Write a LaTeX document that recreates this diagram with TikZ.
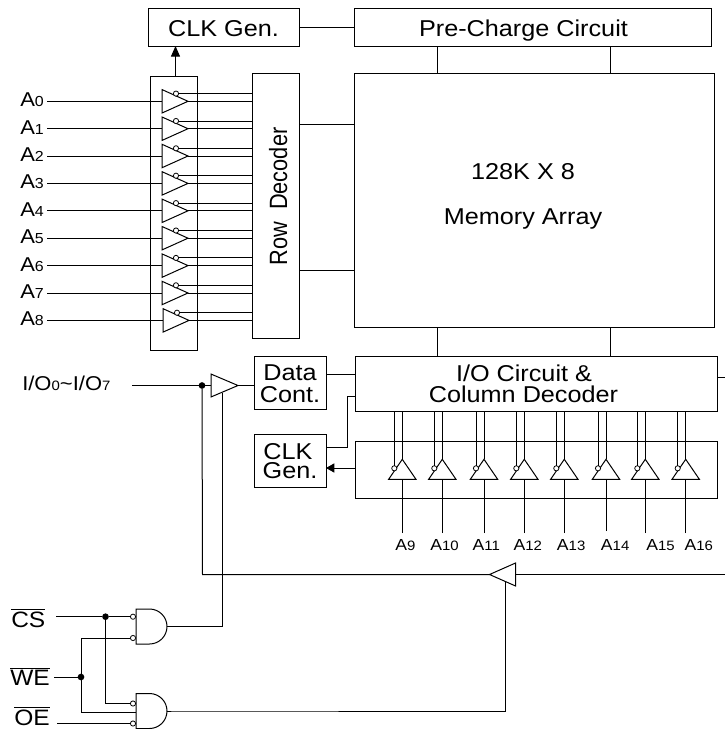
\documentclass[tikz,border=0pt]{standalone}
\usepackage{fontspec}
\setmainfont[FakeStretch=1.1]{Liberation Sans}
\newfontfamily\rotfont[FakeStretch=.87]{Liberation Sans}
\usetikzlibrary{shapes.geometric,arrows.meta}
\newcommand{\fbig}{\fontsize{17.2}{20}\selectfont}
\newcommand{\fa}{\fontsize{15}{18}\selectfont}
\newcommand{\fsub}{\fontsize{10.9}{13}\selectfont}
\newcommand{\fcol}{\fontsize{12}{14}\selectfont}
\newcommand{\fcolsub}{\fontsize{10.2}{12}\selectfont}
\newcommand{\fbar}{\fontsize{16.7}{20}\selectfont}
\newcommand{\Asub}[1]{{\fa A\fsub #1}}
\newcommand{\Acol}[1]{{\fcol A\fcolsub #1}}
\newcommand{\ovl}[1]{$\overline{\hbox{\fbar #1}}$}
\tikzset{
  wire/.style={line width=.75pt,black},
  box/.style={draw,line width=.75pt,inner sep=0pt,outer sep=0pt,rectangle},
  txt/.style={anchor=base,inner sep=0pt,font=\fbig},
  lab/.style={anchor=base west,inner sep=0pt},
  buf/.style={draw,line width=.75pt,fill=white,isosceles triangle,isosceles triangle stretches,inner sep=0pt,outer sep=0pt,anchor=apex,shape border rotate=#1},
  bub/.style={draw,line width=.6pt,fill=white,circle,inner sep=0pt,outer sep=0pt,minimum size=3.9pt},
  jdot/.style={fill=black,circle,inner sep=0pt,outer sep=0pt,minimum size=5pt},
  gatearea/.style={inner sep=0pt,outer sep=0pt,rectangle,minimum width=23.25pt,minimum height=26.25pt},
  tiptop/.style={-{Triangle[length=8pt,width=6.8pt]}},
  tiplow/.style={-{Triangle[length=6.2pt,width=6.8pt]}}
}
\newcommand{\bx}[5]{\node[box,minimum width={(#4-#2)*.75pt},minimum height={(#5-#3)*.75pt}] (#1) at ({(#2+#4)/2},{(#3+#5)/2}) {};}
\begin{document}
\begin{tikzpicture}[x=.75pt,y=-.75pt]
\useasboundingbox[fill=white] (0,0) rectangle (725,729);
% blocks
\bx{clktop}{148}{8}{299}{46}
\bx{pre}{354.5}{8}{711}{46}
\bx{mem}{354.5}{73}{714.5}{327.5}
\bx{row}{252}{73}{299}{338}
\bx{abuf}{150}{76}{197}{350}
\bx{data}{254.5}{356.5}{326}{409}
\bx{clklow}{254.5}{434.5}{326}{487}
\bx{io}{355}{356}{717.5}{411}
\bx{cbuf}{355}{441.5}{717.5}{498}
% block text
\node[txt] (tclk) at (223.5,36) {CLK Gen.};
\node[txt] (tpre) at (523.5,36) {Pre-Charge Circuit};
\node[txt] (tmem1) at (523,179) {128K X 8};
\node[txt] (tmem2) at (523,224) {Memory Array};
\node[anchor=base,inner sep=0pt,rotate=90] (trow) at (287,196.5) {\rotfont\fontsize{18.75}{20}\selectfont Row\ \ Decoder};
\node[txt] (tdata1) at (290,380) {Data};
\node[txt] (tdata2) at (290,402.7) {Cont.};
\node[txt] (tclk1) at (288,459) {CLK};
\node[txt] (tclk2) at (290,478) {Gen.};
\node[txt] (tio1) at (524,381.7) {I/O Circuit \&};
\node[txt] (tio2) at (523.5,402.7) {Column Decoder};
% top connections
\draw[wire] (clktop.east) -- (clktop.east -| pre.west);
\coordinate (clkin) at (175.5,76);
\draw[wire,tiptop] (abuf.north -| clkin) -- (clktop.south -| clkin);
\foreach \px in {437.7,610}{
  \coordinate (pc) at (\px,60);
  \draw[wire] (pc |- pre.south) -- (pc |- mem.north);
  \draw[wire] (pc |- mem.south) -- (pc |- io.north);
}
\coordinate (rm1) at (299,124);
\coordinate (rm2) at (299,270);
\draw[wire] (rm1) -- (rm1 -| mem.west);
\draw[wire] (rm2) -- (rm2 -| mem.west);
% row address buffers
\foreach \i/\yy/\dx in {0/101.3/0,1/128.7/0,2/156/0,3/183.4/0,4/210.8/0,5/238.2/0,6/265.6/0,7/293/0,8/320.4/1}{
  \node[lab] (la\i) at (20,\yy+5.5) {\Asub{\i}};
  \node[buf=0,minimum height=19.5pt,minimum width=17.6pt] (t\i) at (188+\dx,\yy) {};
  \node[bub] (b\i) at (176+\dx,\yy-7.7) {};
  \coordinate (s\i) at (47,\yy);
  \draw[wire] (s\i) -- (t\i.lower side);
  \draw[wire] (t\i.apex) -- (t\i.apex -| row.west);
  \draw[wire] (b\i.east) -- (b\i.east -| row.west);
}
% data path
\node[lab,font=\fa] (lio) at (22,390.7) {I/O{\fcolsub 0}\raisebox{0pt}{\char`~}I/O{\fcolsub 7}};
\coordinate (iostart) at (132,385.5);
\node[buf=0,minimum height=20.25pt,minimum width=17.2pt] (din) at (238,385.5) {};
\node[jdot] (jio) at (202,385.5) {};
\draw[wire] (iostart) -- (jio) -- (din.lower side);
\draw[wire] (din.apex) -- (din.apex -| data.west);
\coordinate (dc1) at (326,374.5);
\draw[wire] (dc1) -- (dc1 -| io.west);
\coordinate (ck1) at (326,447.5);
\coordinate (ck2) at (347,396.5);
\draw[wire] (ck1) -- (ck1 -| ck2) -- (ck2) -- (ck2 -| io.west);
\coordinate (ck3) at (355,468);
\draw[wire,tiplow] (ck3) -- (ck3 -| clklow.east);
\coordinate (ioout) at (717.5,377);
\coordinate (ioedge) at (725,377);
\draw[wire] (ioout) -- (ioedge);
% column buffers
\foreach \n/\ax/\ly/\lx in {9/402.3/533/395,10/442.3/533/430,11/484/533/472.3,12/524.3/533/513.3,13/564.3/533/556.7,14/606/531/600.7,15/645.3/533/646,16/685.7/533/684.3}{
  \node[buf=90,minimum height=15pt,minimum width=20.5pt] (c\n) at (\ax,459.3) {};
  \node[bub] (cb\n) at (\ax-8,468.3) {};
  \coordinate (ce\n) at (\ax,\ly);
  \node[lab] (lc\n) at (\lx,550) {\Acol{\n}};
  \draw[wire] (ce\n) -- (c\n.lower side);
  \draw[wire] (c\n.apex) -- (c\n.apex |- io.south);
  \draw[wire] (cb\n.north) -- (cb\n.north |- io.south);
}
% output buffer
\node[buf=180,minimum height=19.5pt,minimum width=17.2pt] (dout) at (489.5,574.5) {};
\coordinate (edge) at (725,574.5);
\draw[wire] (edge) -- (dout.lower side);
\coordinate (fb) at (202.5,574.5);
\draw[wire] (jio) -- (fb) -- (dout.apex);
% gates
\node[gatearea] (g1) at (151.5,626.5) {};
\node[gatearea] (g2) at (151.5,711) {};
\foreach \g in {g1,g2}{
  \draw[wire] (\g.north west) -- ++(13.5,0) arc[start angle=-90,end angle=90,radius=17.5] -- (\g.south west) -- cycle;
}
\node[bub] (p1) at (133,616.7) {};
\node[bub] (p2) at (133,638) {};
\node[bub] (p3) at (133,703.5) {};
\node[bub] (p4) at (133,723.5) {};
\node[lab] (lcs) at (11,627) {\ovl{CS}};
\node[lab] (lwe) at (10,685) {\ovl{WE}};
\node[lab] (loe) at (14,725) {\ovl{OE}};
\coordinate (scs) at (56,616.7);
\coordinate (swe) at (54,677);
\coordinate (soe) at (57,723.5);
\node[jdot] (jcs) at (105.5,616.7) {};
\node[jdot] (jwe) at (81,677) {};
\draw[wire] (scs) -- (jcs) -- (p1.west);
\draw[wire] (jcs) -- (jcs |- p3.west) -- (p3.west);
\draw[wire] (swe) -- (jwe);
\coordinate (m2) at (136,712.7);
\draw[wire] (jwe |- p2.west) -- (p2.west);
\draw[wire] (jwe |- p2.west) -- (jwe |- m2) -- (m2);
\draw[wire] (soe) -- (p4.west);
\coordinate (en1) at (222,392.5);
\coordinate (en2) at (505,582);
\draw[wire] (g1.east) -- ++(8,0) -| (en1);
\draw[wire] (g2.east) -- ++(8,0) -| (en2);
\end{tikzpicture}
\end{document}
